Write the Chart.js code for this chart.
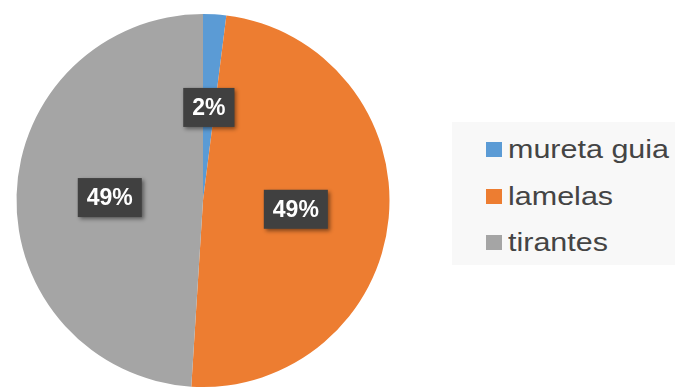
<!DOCTYPE html>
<html>
<head>
<meta charset="utf-8">
<script src="https://cdn.jsdelivr.net/npm/chart.js@4/dist/chart.umd.min.js"></script>
<style>
  html, body { margin: 0; padding: 0; background: #ffffff; }
  #wrap { position: relative; width: 675px; height: 390px; }
  #pie { position: absolute; left: 0; top: 0; }
  #legend {
    position: absolute;
    left: 452px; top: 122px;
    width: 223px; height: 143px;
    background: #f8f8f8;
    font-family: "Liberation Sans", Arial, sans-serif;
    font-size: 25px;
    color: #444444;
    overflow: hidden;
  }
  .item { position: absolute; left: 34px; height: 30px; line-height: 30px; white-space: nowrap; }
  .item .box { position: absolute; left: 0; top: 8px; width: 16px; height: 15px; }
  .item .name {
    position: absolute; left: 22px; top: 0;
    transform: scaleX(1.22); transform-origin: left center;
  }
</style>
</head>
<body>
<div id="wrap">
  <canvas id="pie" width="675" height="390"></canvas>
  <div id="legend"></div>
</div>
<script>
const labels = ["mureta guia", "lamelas", "tirantes"];
const shares = [2, 49, 49];
const colors = ["#5b9bd5", "#ed7d31", "#a5a5a5"];

// ----------------------------
// LEGEND (html, right side)
// ----------------------------
const legend = document.getElementById("legend");
labels.forEach((name, i) => {
  const item = document.createElement("div");
  item.className = "item";
  item.style.top = (12 + i * 46.5) + "px";
  item.innerHTML = `<span class="box" style="background:${colors[i]}"></span><span class="name">${name}</span>`;
  legend.appendChild(item);
});

// ----------------------------
// PERCENT BOXES ON SLICES
// ----------------------------
const sliceLabels = {
  id: "sliceLabels",
  afterDatasetsDraw(chart) {
    const ctx = chart.ctx;
    const meta = chart.getDatasetMeta(0);
    ctx.save();
    ctx.font = "bold 23px 'Liberation Sans', Arial, sans-serif";
    ctx.textAlign = "center";
    ctx.textBaseline = "middle";
    meta.data.forEach((arc, i) => {
      const p = arc.tooltipPosition();
      const text = shares[i] + "%";
      const w = ctx.measureText(text).width + 18;
      const h = 39;
      ctx.shadowColor = "rgba(0,0,0,0.45)";
      ctx.shadowBlur = 4;
      ctx.shadowOffsetX = 2;
      ctx.shadowOffsetY = 2;
      ctx.fillStyle = "#404040";
      ctx.fillRect(p.x - w / 2, p.y - h / 2, w, h);
      ctx.shadowColor = "transparent";
      ctx.fillStyle = "#ffffff";
      ctx.fillText(text, p.x, p.y + 1);
    });
    ctx.restore();
  }
};

// ----------------------------
// PIE
// ----------------------------
new Chart(document.getElementById("pie"), {
  type: "pie",
  data: {
    labels,
    datasets: [{
      data: shares,
      backgroundColor: colors,
      borderWidth: 0
    }]
  },
  options: {
    responsive: false,
    animation: false,
    layout: {
      padding: { top: 14, bottom: 3, left: 16.5, right: 285.5 }
    },
    plugins: {
      legend: { display: false },
      tooltip: { enabled: false }
    }
  },
  plugins: [sliceLabels]
});
</script>
</body>
</html>
